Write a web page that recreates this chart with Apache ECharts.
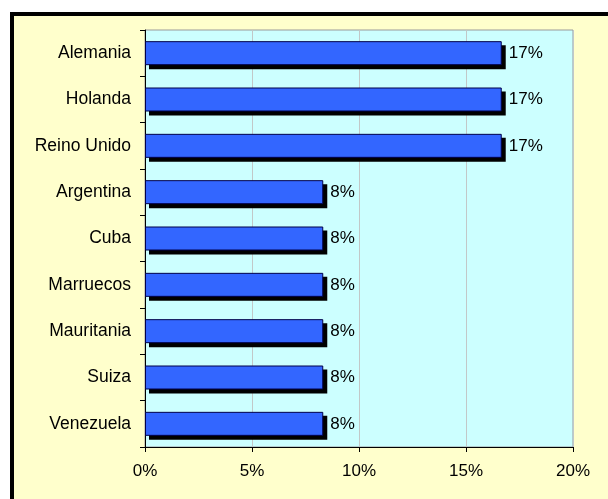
<!DOCTYPE html>
<html>
<head>
<meta charset="utf-8">
<script src="https://cdn.jsdelivr.net/npm/echarts@6/dist/echarts.min.js"></script>
<style>
  html, body { margin: 0; padding: 0; background: #ffffff; }
  #frame {
    position: absolute; left: 10px; top: 12px; right: 0; bottom: 0;
    background: #FFFFCC;
    border-left: 4px solid #000; border-top: 4px solid #000;
  }
  #chart { position: absolute; left: 0; top: 0; width: 608px; height: 499px; }
</style>
</head>
<body>
<div id="frame"></div>
<div id="chart"></div>
<script>
// Share by country (percent)
const countries = ['Alemania', 'Holanda', 'Reino Unido', 'Argentina', 'Cuba', 'Marruecos', 'Mauritania', 'Suiza', 'Venezuela'];
const shares = [16.67, 16.67, 16.67, 8.33, 8.33, 8.33, 8.33, 8.33, 8.33];
const axisTicks = [0, 5, 10, 15, 20];

const chart = echarts.init(document.getElementById('chart'), null, { renderer: 'canvas' });
const font = 'Arial, "Liberation Sans", sans-serif';
const BAR_H = 24;
const SHADOW_DX = 4, SHADOW_DY = 4;

// solid drop shadow behind each bar, placed through the axes' coordinates
function renderShadow(params, api) {
  const idx = api.value(1);
  const start = api.coord([0, idx]);
  const end = api.coord([api.value(0), idx]);
  return {
    type: 'rect',
    shape: {
      x: start[0] + SHADOW_DX,
      y: start[1] - BAR_H / 2 + SHADOW_DY,
      width: end[0] - start[0],
      height: BAR_H
    },
    style: { fill: '#000' }
  };
}

chart.setOption({
  backgroundColor: 'transparent',
  animation: false,
  grid: {
    left: 145, top: 30, right: 35, bottom: 52,
    show: true, backgroundColor: '#CCFFFF', borderColor: '#9a9a9a', borderWidth: 1
  },
  xAxis: {
    type: 'value',
    min: axisTicks[0], max: axisTicks[axisTicks.length - 1], interval: 5,
    axisLine: { show: true, lineStyle: { color: '#000', width: 1 } },
    axisTick: { show: true, length: 5, lineStyle: { color: '#000' } },
    splitLine: { show: true, lineStyle: { color: '#c2c8c8', width: 1 } },
    axisLabel: { formatter: '{value}%', color: '#000', fontSize: 17, fontFamily: font, margin: 16 }
  },
  yAxis: {
    type: 'category',
    data: countries,
    inverse: true,
    axisLine: { show: true, lineStyle: { color: '#000', width: 1 } },
    axisTick: { show: true, length: 5, alignWithLabel: false, lineStyle: { color: '#000' } },
    splitLine: { show: false },
    axisLabel: { color: '#000', fontSize: 17.5, fontFamily: font, margin: 14 }
  },
  series: [{
    type: 'custom',
    renderItem: renderShadow,
    data: shares.map((v, i) => [v, i]),
    encode: { x: 0, y: 1 },
    z: 1,
    silent: true
  }, {
    type: 'bar',
    data: shares,
    barWidth: BAR_H,
    z: 2,
    itemStyle: {
      color: '#3366FF',
      borderColor: '#00004a',
      borderWidth: 1
    },
    label: {
      show: true,
      position: 'right',
      distance: 7,
      color: '#000',
      fontSize: 17,
      fontFamily: font,
      formatter: p => Math.round(p.value) + '%'
    }
  }]
});
</script>
</body>
</html>
